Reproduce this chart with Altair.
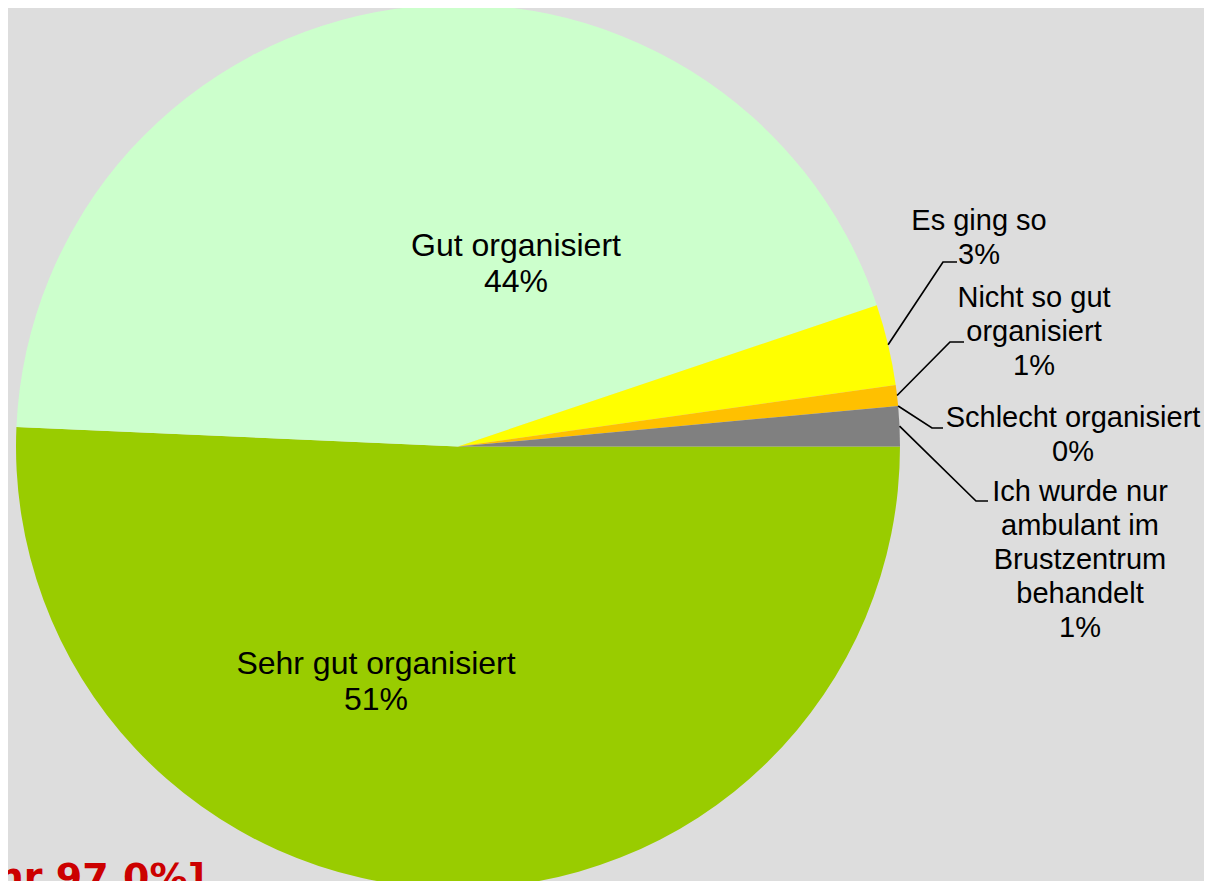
import math
import altair as alt
import pandas as pd

# ---- data ----
categories = [
    "Sehr gut organisiert",
    "Gut organisiert",
    "Es ging so",
    "Nicht so gut organisiert",
    "Schlecht organisiert",
    "Ich wurde nur ambulant im Brustzentrum behandelt",
]
values = [50.70, 44.11, 2.96, 0.76, 0.0, 1.46]
wrapped_names = [
    "Sehr gut organisiert",
    "Gut organisiert",
    "Es ging so",
    "Nicht so gut\norganisiert",
    "Schlecht organisiert",
    "Ich wurde nur\nambulant im\nBrustzentrum\nbehandelt",
]
note_text = ["[Vorjahr 97,0%]"]

# ---- styles / layout ----
colors = ["#99cc00", "#ccffcc", "#ffff00", "#ffc000", "#ff0000", "#808080"]
inside = [True, True, False, False, False, False]
CX, CY, R = 450, 438.5, 442
W, H = 1196, 873
label_xy = [(368, 666), (508, 248), (971, 222), (1026, 299), (1065, 419), (1072, 493)]
leader_pts = [None, None,
              [(935, 254), (949, 254)],
              [(942, 334), (956, 334)],
              [(924, 420), (935, 420)],
              [(968, 493), (980, 493)]]

total = sum(values)
rows, line_rows = [], []
cum = 0.0
for i, (cat, v) in enumerate(zip(categories, values)):
    start = math.pi / 2 + 2 * math.pi * cum / total
    cum += v
    end = math.pi / 2 + 2 * math.pi * cum / total
    mid = (start + end) / 2
    pct = f"{round(v)}%"
    rows.append(dict(category=cat, value=v, start=start, end=end,
                     label=wrapped_names[i] + "\n" + pct,
                     lx=label_xy[i][0], ly=label_xy[i][1], inside=inside[i]))
    if leader_pts[i]:
        pts = [(CX + R * math.sin(mid), CY - R * math.cos(mid))] + leader_pts[i]
        for s, (px, py) in enumerate(pts):
            line_rows.append(dict(category=cat, seq=s, x=px, y=py))

df = pd.DataFrame(rows)
lines_df = pd.DataFrame(line_rows)

arcs = alt.Chart(df).mark_arc(radius=R).encode(
    theta=alt.Theta("start:Q", scale=None),
    theta2="end:Q",
    color=alt.Color("category:N", scale=alt.Scale(domain=categories, range=colors), legend=None),
    x=alt.value(CX),
    y=alt.value(CY),
)

leaders = alt.Chart(lines_df).mark_line(color="black", strokeWidth=1.7).encode(
    x=alt.X("x:Q", scale=None, axis=None),
    y=alt.Y("y:Q", scale=None, axis=None),
    detail="category:N",
    order="seq:O",
)

font = "Liberation Sans, Arial"
txt_in = alt.Chart(df[df["inside"]]).mark_text(
    lineBreak="\n", align="center", baseline="alphabetic",
    font=font, fontSize=32, lineHeight=36, color="black",
).encode(
    x=alt.X("lx:Q", scale=None, axis=None),
    y=alt.Y("ly:Q", scale=None, axis=None),
    text="label:N",
)

txt_out = alt.Chart(df[~df["inside"]]).mark_text(
    lineBreak="\n", align="center", baseline="alphabetic",
    font=font, fontSize=29, lineHeight=34, color="black",
).encode(
    x=alt.X("lx:Q", scale=None, axis=None),
    y=alt.Y("ly:Q", scale=None, axis=None),
    text="label:N",
)

note = alt.Chart(pd.DataFrame({"t": note_text})).mark_text(
    align="right", baseline="alphabetic", font="DejaVu Sans", fontWeight="bold",
    fontSize=38, color="#cc0000",
).encode(
    x=alt.value(197),
    y=alt.value(882),
    text="t:N",
)

chart = alt.layer(arcs, leaders, txt_in, txt_out, note).properties(
    width=W, height=H, padding=0, background="#dddddd",
    autosize=alt.AutoSizeParams(type="none"),
).configure_view(stroke=None)

chart.save("out.html", embed_options={"renderer": "svg", "actions": False})
